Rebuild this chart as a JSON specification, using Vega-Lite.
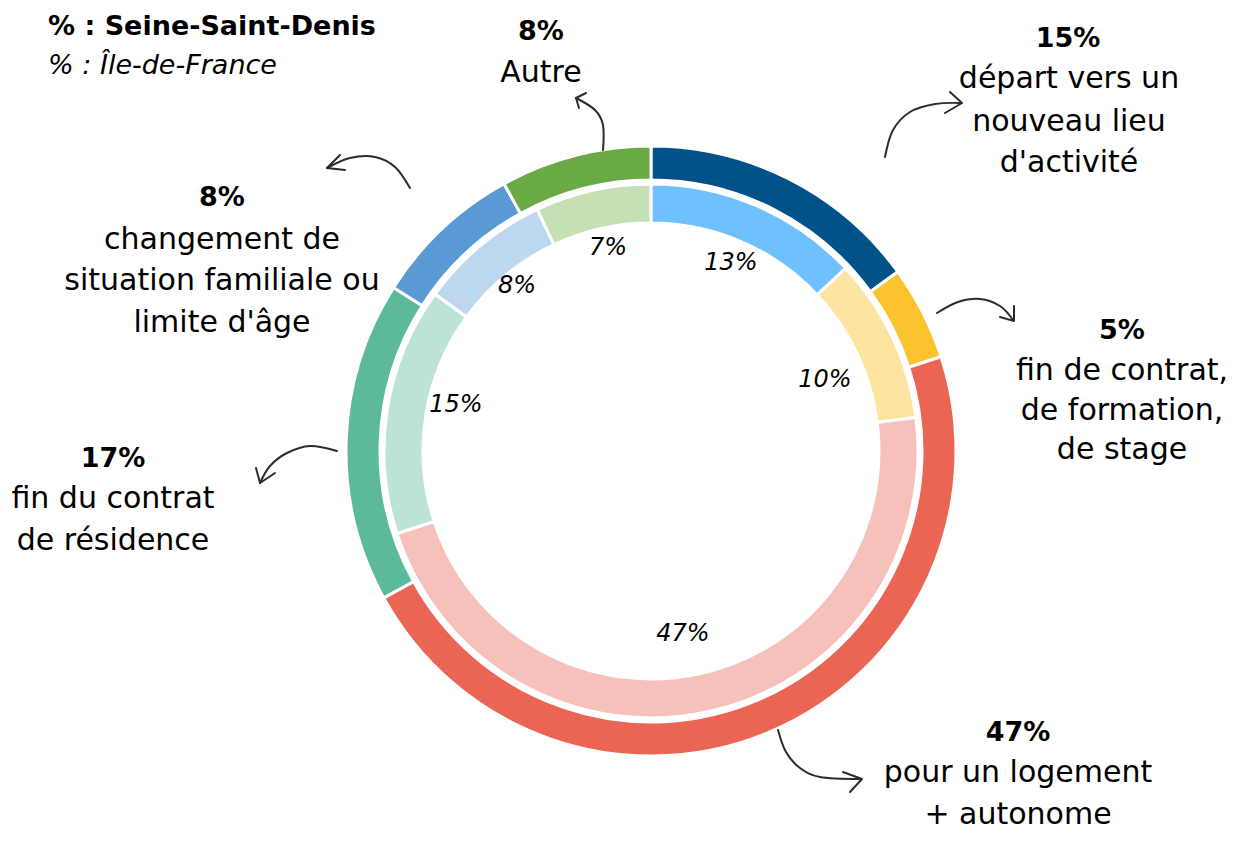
{
  "$schema": "https://vega.github.io/schema/vega-lite/v6.json",
  "autosize": "none",
  "width": 1166,
  "height": 784,
  "padding": {"left": 68, "top": 59, "right": 0, "bottom": 0},
  "background": "white",
  "config": {"view": {"stroke": null}, "font": "DejaVu Sans"},
  "datasets": {
    "parts": [
      {"serie": "Seine-Saint-Denis", "motif": "départ vers un nouveau lieu d'activité", "valeur": 15, "ordre": 1},
      {"serie": "Seine-Saint-Denis", "motif": "fin de contrat, de formation, de stage", "valeur": 5, "ordre": 2},
      {"serie": "Seine-Saint-Denis", "motif": "pour un logement + autonome", "valeur": 47, "ordre": 3},
      {"serie": "Seine-Saint-Denis", "motif": "fin du contrat de résidence", "valeur": 17, "ordre": 4},
      {"serie": "Seine-Saint-Denis", "motif": "changement de situation familiale ou limite d'âge", "valeur": 8, "ordre": 5},
      {"serie": "Seine-Saint-Denis", "motif": "Autre", "valeur": 8, "ordre": 6},
      {"serie": "Île-de-France", "motif": "départ vers un nouveau lieu d'activité", "valeur": 13, "ordre": 1},
      {"serie": "Île-de-France", "motif": "fin de contrat, de formation, de stage", "valeur": 10, "ordre": 2},
      {"serie": "Île-de-France", "motif": "pour un logement + autonome", "valeur": 47, "ordre": 3},
      {"serie": "Île-de-France", "motif": "fin du contrat de résidence", "valeur": 15, "ordre": 4},
      {"serie": "Île-de-France", "motif": "changement de situation familiale ou limite d'âge", "valeur": 8, "ordre": 5},
      {"serie": "Île-de-France", "motif": "Autre", "valeur": 7, "ordre": 6}
    ],
    "labels": [
      {"kind": "legendBold", "text": "% : Seine-Saint-Denis", "x": -603, "y": -416},
      {"kind": "legendItalic", "text": "% : Île-de-France", "x": -603, "y": -377},
      {"kind": "bold", "text": "8%", "x": -110, "y": -411},
      {"kind": "regular", "text": "Autre", "x": -110, "y": -369},
      {"kind": "bold", "text": "15%", "x": 417, "y": -404},
      {"kind": "regular", "text": "départ vers un", "x": 418, "y": -363},
      {"kind": "regular", "text": "nouveau lieu", "x": 418, "y": -320},
      {"kind": "regular", "text": "d'activité", "x": 418, "y": -279},
      {"kind": "bold", "text": "5%", "x": 471, "y": -112},
      {"kind": "regular", "text": "fin de contrat,", "x": 471, "y": -71},
      {"kind": "regular", "text": "de formation,", "x": 471, "y": -31},
      {"kind": "regular", "text": "de stage", "x": 471, "y": 8},
      {"kind": "bold", "text": "47%", "x": 367, "y": 290},
      {"kind": "regular", "text": "pour un logement", "x": 367, "y": 331},
      {"kind": "regular", "text": "+ autonome", "x": 367, "y": 373},
      {"kind": "bold", "text": "17%", "x": -538, "y": 16},
      {"kind": "regular", "text": "fin du contrat", "x": -538, "y": 57},
      {"kind": "regular", "text": "de résidence", "x": -538, "y": 99},
      {"kind": "bold", "text": "8%", "x": -429, "y": -245},
      {"kind": "regular", "text": "changement de", "x": -429, "y": -202},
      {"kind": "regular", "text": "situation familiale ou", "x": -429, "y": -161},
      {"kind": "regular", "text": "limite d'âge", "x": -429, "y": -119},
      {"kind": "italic", "text": "7%", "x": -43, "y": -196},
      {"kind": "italic", "text": "13%", "x": 80, "y": -181},
      {"kind": "italic", "text": "10%", "x": 174, "y": -64},
      {"kind": "italic", "text": "47%", "x": 32, "y": 190},
      {"kind": "italic", "text": "15%", "x": -195, "y": -39},
      {"kind": "italic", "text": "8%", "x": -134, "y": -158}
    ],
    "arrows": [
      {"id": "A", "part": "curve", "seq": 1, "x": -48, "y": -301},
      {"id": "A", "part": "curve", "seq": 2, "x": -48, "y": -326},
      {"id": "A", "part": "curve", "seq": 3, "x": -56, "y": -341},
      {"id": "A", "part": "curve", "seq": 4, "x": -75, "y": -353},
      {"id": "A", "part": "head", "seq": 1, "x": -65, "y": -358},
      {"id": "A", "part": "head", "seq": 2, "x": -75, "y": -353},
      {"id": "A", "part": "head", "seq": 3, "x": -72, "y": -343},
      {"id": "B", "part": "curve", "seq": 1, "x": 234, "y": -294},
      {"id": "B", "part": "curve", "seq": 2, "x": 242, "y": -321},
      {"id": "B", "part": "curve", "seq": 3, "x": 259, "y": -339},
      {"id": "B", "part": "curve", "seq": 4, "x": 284, "y": -347},
      {"id": "B", "part": "curve", "seq": 5, "x": 310, "y": -348},
      {"id": "B", "part": "head", "seq": 1, "x": 299, "y": -359},
      {"id": "B", "part": "head", "seq": 2, "x": 311, "y": -348},
      {"id": "B", "part": "head", "seq": 3, "x": 294, "y": -338},
      {"id": "C", "part": "curve", "seq": 1, "x": 286, "y": -138},
      {"id": "C", "part": "curve", "seq": 2, "x": 307, "y": -149},
      {"id": "C", "part": "curve", "seq": 3, "x": 329, "y": -152},
      {"id": "C", "part": "curve", "seq": 4, "x": 349, "y": -145},
      {"id": "C", "part": "curve", "seq": 5, "x": 362, "y": -131},
      {"id": "C", "part": "head", "seq": 1, "x": 363, "y": -145},
      {"id": "C", "part": "head", "seq": 2, "x": 363, "y": -130},
      {"id": "C", "part": "head", "seq": 3, "x": 349, "y": -134},
      {"id": "D", "part": "curve", "seq": 1, "x": 127, "y": 279},
      {"id": "D", "part": "curve", "seq": 2, "x": 135, "y": 301},
      {"id": "D", "part": "curve", "seq": 3, "x": 149, "y": 317},
      {"id": "D", "part": "curve", "seq": 4, "x": 169, "y": 326},
      {"id": "D", "part": "curve", "seq": 5, "x": 209, "y": 328},
      {"id": "D", "part": "head", "seq": 1, "x": 192, "y": 321},
      {"id": "D", "part": "head", "seq": 2, "x": 211, "y": 328},
      {"id": "D", "part": "head", "seq": 3, "x": 199, "y": 341},
      {"id": "E", "part": "curve", "seq": 1, "x": -314, "y": 0},
      {"id": "E", "part": "curve", "seq": 2, "x": -341, "y": -5},
      {"id": "E", "part": "curve", "seq": 3, "x": -364, "y": 2},
      {"id": "E", "part": "curve", "seq": 4, "x": -381, "y": 15},
      {"id": "E", "part": "curve", "seq": 5, "x": -391, "y": 32},
      {"id": "E", "part": "head", "seq": 1, "x": -395, "y": 17},
      {"id": "E", "part": "head", "seq": 2, "x": -391, "y": 32},
      {"id": "E", "part": "head", "seq": 3, "x": -376, "y": 22},
      {"id": "F", "part": "curve", "seq": 1, "x": -241, "y": -263},
      {"id": "F", "part": "curve", "seq": 2, "x": -256, "y": -284},
      {"id": "F", "part": "curve", "seq": 3, "x": -276, "y": -294},
      {"id": "F", "part": "curve", "seq": 4, "x": -301, "y": -293},
      {"id": "F", "part": "curve", "seq": 5, "x": -324, "y": -283},
      {"id": "F", "part": "head", "seq": 1, "x": -311, "y": -296},
      {"id": "F", "part": "head", "seq": 2, "x": -324, "y": -283},
      {"id": "F", "part": "head", "seq": 3, "x": -306, "y": -281}
    ]
  },
  "layer": [
    {
      "data": {"name": "parts"},
      "transform": [{"filter": "datum.serie === 'Seine-Saint-Denis'"}],
      "mark": {"type": "arc", "innerRadius": 271, "outerRadius": 305, "stroke": "white", "strokeWidth": 3},
      "encoding": {
        "theta": {"field": "valeur", "type": "quantitative", "stack": true, "scale": {"domain": [0, 100]}},
        "order": {"field": "ordre", "type": "quantitative"},
        "color": {
          "field": "motif", "type": "nominal", "legend": null,
          "scale": {
            "domain": ["départ vers un nouveau lieu d'activité", "fin de contrat, de formation, de stage", "pour un logement + autonome", "fin du contrat de résidence", "changement de situation familiale ou limite d'âge", "Autre"],
            "range": ["#02528A", "#FBC42E", "#EB6554", "#5CB99A", "#5A9AD4", "#6AAA45"]
          }
        }
      }
    },
    {
      "data": {"name": "parts"},
      "transform": [{"filter": "datum.serie === 'Île-de-France'"}],
      "mark": {"type": "arc", "innerRadius": 228, "outerRadius": 267, "stroke": "white", "strokeWidth": 3},
      "encoding": {
        "theta": {"field": "valeur", "type": "quantitative", "stack": true, "scale": {"domain": [0, 100]}},
        "order": {"field": "ordre", "type": "quantitative"},
        "fill": {
          "field": "motif", "type": "nominal", "legend": null,
          "scale": {
            "domain": ["départ vers un nouveau lieu d'activité", "fin de contrat, de formation, de stage", "pour un logement + autonome", "fin du contrat de résidence", "changement de situation familiale ou limite d'âge", "Autre"],
            "range": ["#6EC0FE", "#FEE4A1", "#F5C1BA", "#BDE3D7", "#BDD7EE", "#C6E0B5"]
          }
        }
      }
    },
    {
      "data": {"name": "arrows"},
      "transform": [{"filter": "datum.part === 'curve'"}],
      "mark": {"type": "line", "interpolate": "cardinal", "stroke": "#2b2b2b", "strokeWidth": 2, "strokeCap": "round"},
      "encoding": {
        "x": {"field": "x", "type": "quantitative", "scale": {"domain": [-583, 583], "zero": false, "nice": false}, "axis": null},
        "y": {"field": "y", "type": "quantitative", "scale": {"domain": [-392, 392], "zero": false, "nice": false, "reverse": true}, "axis": null},
        "detail": {"field": "id"},
        "order": {"field": "seq", "type": "quantitative"}
      }
    },
    {
      "data": {"name": "arrows"},
      "transform": [{"filter": "datum.part === 'head'"}],
      "mark": {"type": "line", "interpolate": "linear", "stroke": "#2b2b2b", "strokeWidth": 2, "strokeCap": "round", "strokeJoin": "round"},
      "encoding": {
        "x": {"field": "x", "type": "quantitative"},
        "y": {"field": "y", "type": "quantitative"},
        "detail": {"field": "id"},
        "order": {"field": "seq", "type": "quantitative"}
      }
    },
    {
      "data": {"name": "labels"},
      "transform": [{"filter": "datum.kind === 'bold'"}],
      "mark": {"type": "text", "font": "DejaVu Sans", "fontWeight": "bold", "fontSize": 27, "align": "center", "baseline": "alphabetic", "color": "black"},
      "encoding": {"x": {"field": "x", "type": "quantitative"}, "y": {"field": "y", "type": "quantitative"}, "text": {"field": "text"}}
    },
    {
      "data": {"name": "labels"},
      "transform": [{"filter": "datum.kind === 'regular'"}],
      "mark": {"type": "text", "font": "DejaVu Sans", "fontSize": 30, "align": "center", "baseline": "alphabetic", "color": "black"},
      "encoding": {"x": {"field": "x", "type": "quantitative"}, "y": {"field": "y", "type": "quantitative"}, "text": {"field": "text"}}
    },
    {
      "data": {"name": "labels"},
      "transform": [{"filter": "datum.kind === 'italic'"}],
      "mark": {"type": "text", "font": "DejaVu Sans", "fontStyle": "italic", "fontSize": 24, "align": "center", "baseline": "alphabetic", "color": "black"},
      "encoding": {"x": {"field": "x", "type": "quantitative"}, "y": {"field": "y", "type": "quantitative"}, "text": {"field": "text"}}
    },
    {
      "data": {"name": "labels"},
      "transform": [{"filter": "datum.kind === 'legendBold'"}],
      "mark": {"type": "text", "font": "DejaVu Sans", "fontWeight": "bold", "fontSize": 27, "align": "left", "baseline": "alphabetic", "color": "black"},
      "encoding": {"x": {"field": "x", "type": "quantitative"}, "y": {"field": "y", "type": "quantitative"}, "text": {"field": "text"}}
    },
    {
      "data": {"name": "labels"},
      "transform": [{"filter": "datum.kind === 'legendItalic'"}],
      "mark": {"type": "text", "font": "DejaVu Sans", "fontStyle": "italic", "fontSize": 27, "align": "left", "baseline": "alphabetic", "color": "black"},
      "encoding": {"x": {"field": "x", "type": "quantitative"}, "y": {"field": "y", "type": "quantitative"}, "text": {"field": "text"}}
    }
  ],
  "resolve": {"scale": {"color": "independent", "fill": "independent"}}
}
